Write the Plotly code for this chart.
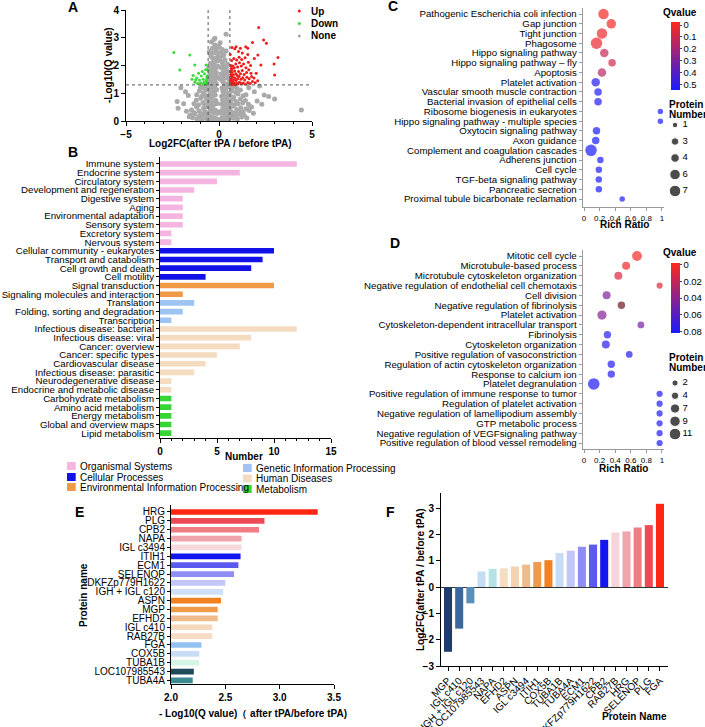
import plotly.graph_objects as go

# =============================================================================
# DATA
# =============================================================================

# ---- Panel A: volcano plot (Log2FC vs -Log10 Q) ----
# non-significant proteins
gray_x = [
    # lowest band
    -1.55, -1.42, -1.3, -1.18, -1.05, -0.95, -0.86, -0.77, -0.68, -0.6,
    -0.52, -0.45, -0.38, -0.31, -0.25, -0.18, -0.12, -0.06, 0.05, 0.11,
    0.17, 0.24, 0.3, 0.37, 0.44, 0.52, 0.6, 0.69, 0.78, 0.88,
    0.99, 1.1, 1.22, 1.36, 1.5,
    # band 2
    -1.48, -1.35, -1.2, -1.08, -0.96, -0.84, -0.73, -0.64, -0.55, -0.47,
    -0.4, -0.33, -0.26, -0.19, -0.13, -0.07, 0.08, 0.14, 0.2, 0.27,
    0.34, 0.41, 0.49, 0.57, 0.65, 0.74, 0.84, 0.95, 1.06, 1.18,
    1.3, 1.45, 1.62, 1.75,
    # band 3
    -1.35, -1.22, -1.1, -0.98, -0.87, -0.77, -0.68, -0.6, -0.52, -0.45,
    -0.38, -0.31, -0.24, -0.17, -0.1, 0.12, 0.19, 0.26, 0.33, 0.4,
    0.48, 0.56, 0.64, 0.73, 0.82, 0.92, 1.03, 1.15, 1.28, 1.42,
    1.58,
    # band 4
    -1.2, -1.06, -0.94, -0.83, -0.73, -0.64, -0.56, -0.48, -0.41, -0.34,
    -0.27, -0.2, -0.13, 0.14, 0.21, 0.28, 0.35, 0.43, 0.51, 0.6,
    0.69, 0.79, 0.9, 1.02, 1.15, 1.3,
    # band 5
    -1.0, -0.88, -0.77, -0.67, -0.58, -0.5, -0.43, -0.36, -0.29, -0.22,
    -0.15, 0.16, 0.23, 0.3, 0.37, 0.45, 0.53, 0.62, 0.72, 0.84,
    0.97,
    # band 6
    -0.56, -0.49, -0.42, -0.35, -0.28, -0.21, -0.14, -0.07, 0.05, 0.12,
    0.19, 0.26, 0.33, 0.4, 0.47, 0.54, -0.52, -0.38, -0.24, 0.15,
    0.3, 0.44,
    # band 7
    -0.55, -0.47, -0.4, -0.33, -0.26, -0.19, -0.12, -0.05, 0.04, 0.11,
    0.18, 0.25, 0.32, 0.39, 0.46, -0.43, -0.29, -0.15, 0.08, 0.22,
    0.36,
    # top band
    -0.52, -0.44, -0.36, -0.3, -0.22, -0.15, -0.08, 0.02, 0.1, 0.18,
    0.26, 0.38, -0.4, -0.26, -0.12, 0.06, -0.22, 0.38,
    # outliers
    -2.25, -2.2, -2.05, -1.75, -1.65, -1.9, 2.18, 2.3, 2.43, 2.67,
    2.99, 4.43, 1.9, 2.05, 1.7, 1.85, -1.6, -1.8, 1.6, 1.45,
]
gray_y = [
    0.22, 0.12, 0.25, 0.08, 0.18, 0.05, 0.21, 0.1, 0.16, 0.04,
    0.2, 0.09, 0.14, 0.06, 0.11, 0.03, 0.08, 0.02, 0.03, 0.07,
    0.12, 0.05, 0.15, 0.09, 0.19, 0.06, 0.13, 0.22, 0.1, 0.17,
    0.07, 0.24, 0.14, 0.2, 0.11,
    0.4, 0.31, 0.5, 0.36, 0.27, 0.45, 0.33, 0.52, 0.29, 0.42,
    0.35, 0.48, 0.3, 0.39, 0.27, 0.33, 0.28, 0.36, 0.44, 0.3,
    0.5, 0.38, 0.27, 0.46, 0.34, 0.53, 0.29, 0.41, 0.37, 0.48,
    0.32, 0.44, 0.38, 0.5,
    0.62, 0.75, 0.58, 0.82, 0.66, 0.57, 0.78, 0.64, 0.72, 0.59,
    0.83, 0.67, 0.6, 0.74, 0.63, 0.61, 0.77, 0.58, 0.69, 0.84,
    0.6, 0.73, 0.65, 0.8, 0.57, 0.7, 0.62, 0.79, 0.66, 0.74,
    0.6,
    0.95, 1.08, 0.88, 1.02, 0.92, 1.12, 0.87, 0.99, 1.1, 0.9,
    1.04, 0.94, 1.13, 0.89, 1.06, 0.96, 1.11, 0.88, 1.0, 0.93,
    1.09, 0.86, 1.03, 0.97, 1.12, 0.91,
    1.2, 1.22, 1.18, 1.26, 1.25, 1.37, 1.17, 1.3, 1.44, 1.22,
    1.35, 1.19, 1.4, 1.27, 1.16, 1.34, 1.23, 1.28, 1.19, 1.24,
    1.17,
    1.5, 1.68, 1.56, 1.8, 1.62, 1.49, 1.74, 1.58, 1.52, 1.7,
    1.6, 1.83, 1.55, 1.66, 1.78, 1.5, 1.82, 1.46, 1.66, 1.47,
    1.72, 1.59,
    1.9, 2.08, 1.95, 2.25, 2.02, 1.88, 2.15, 1.97, 2.3, 1.92,
    2.1, 1.99, 2.2, 1.94, 2.05, 2.32, 2.12, 2.27, 2.18, 2.34,
    1.87,
    2.5, 2.4, 2.62, 2.45, 2.74, 2.55, 2.42, 2.66, 2.48, 2.58,
    2.4, 2.52, 2.85, 2.95, 2.7, 2.82, 2.98, 3.13,
    0.7, 0.46, 1.2, 0.35, 0.92, 0.62, 1.26, 0.6, 0.94, 0.88,
    0.79, 0.4, 1.05, 0.72, 0.5, 0.28, 0.15, 1.05, 1.2, 0.95,
]
# up-regulated proteins
up_x = [
    0.62, 0.68, 0.75, 0.8, 0.88, 0.95, 1.02, 1.1, 1.2, 1.3, 1.42, 1.55, 1.68, 1.8, 1.95, 2.08,
    0.65, 0.72, 0.78, 0.85, 0.92, 1.0, 1.08, 1.18, 1.28, 1.38, 1.5, 1.62, 1.75, 1.88,
    0.63, 0.7, 0.77, 0.84, 0.9, 0.98, 1.05, 1.15, 1.25, 1.35, 1.48, 1.6, 1.72,
    0.66, 0.74, 0.82, 0.9, 1.0, 1.1, 1.2, 1.32, 1.45, 1.58, 1.7,
    0.68, 0.8, 0.95, 1.08, 1.22, 1.4, 1.55, 1.25, 1.05,
    0.7, 0.92, 1.15, 1.44, 1.55, 1.8, 2.09, 2.25, 2.4, 2.13, 2.96, 2.99, 3.17, 0.85, 0.6,
    0.64, 2.55, 2.0, 1.9,
    0.61, 0.66, 0.7, 0.73, 0.64, 0.69,
]
up_y = [
    1.35, 1.42, 1.33, 1.38, 1.31, 1.36, 1.33, 1.4, 1.34, 1.37, 1.32, 1.39, 1.35, 1.42, 1.38, 1.45,
    1.5, 1.58, 1.48, 1.55, 1.46, 1.52, 1.6, 1.5, 1.56, 1.48, 1.58, 1.52, 1.6, 1.55,
    1.68, 1.75, 1.66, 1.8, 1.7, 1.64, 1.78, 1.7, 1.82, 1.68, 1.75, 1.85, 1.72,
    1.9, 1.98, 1.92, 2.05, 1.95, 2.1, 1.98, 2.05, 1.92, 2.12, 2.0,
    2.18, 2.25, 2.2, 2.3, 2.22, 2.28, 2.4, 2.45, 2.5,
    2.65, 2.68, 2.62, 2.68, 2.62, 2.83, 2.38, 2.02, 2.92, 3.37, 2.05, 1.66, 2.29, 2.6, 2.4,
    2.0, 2.8, 1.72, 2.25,
    1.45, 1.62, 1.31, 1.4, 1.78, 1.86,
]
# down-regulated proteins
down_x = [
    -2.43, -1.57, -2.11, -1.3, -0.7, -0.61, -1.39, -1.2, -1.05, -0.95,
    -0.85, -0.78, -0.7, -0.65, -1.3, -1.15, -1.0, -0.88, -0.75, -0.62,
    -1.1, -0.9, -0.68, -1.25, -0.8, -1.45, -0.63, -0.72,
]
down_y = [
    2.47, 2.38, 1.84, 2.02, 2.02, 1.84, 1.64, 1.55, 1.48, 1.62,
    1.5, 1.7, 1.42, 1.58, 1.4, 1.35, 1.38, 1.33, 1.32, 1.36,
    1.72, 1.78, 1.48, 1.48, 1.4, 1.5, 1.62, 1.85,
]
FC_CUT = 0.585   # log2(1.5)
Q_CUT = 1.3      # -log10(0.05)

# ---- Panel B: KEGG pathway classification ----
kegg_class = [
    "Immune system", "Endocrine system", "Circulatory system",
    "Development and regeneration", "Digestive system", "Aging",
    "Environmental adaptation", "Sensory system", "Excretory system",
    "Nervous system",
    "Cellular community - eukaryotes", "Transport and catabolism",
    "Cell growth and death", "Cell motility",
    "Signal transduction", "Signaling molecules and interaction",
    "Translation", "Folding, sorting and degradation", "Transcription",
    "Infectious disease: bacterial", "Infectious disease: viral",
    "Cancer: overview", "Cancer: specific types", "Cardiovascular disease",
    "Infectious disease: parasitic", "Neurodegenerative disease",
    "Endocrine and metabolic disease",
    "Carbohydrate metabolism", "Amino acid metabolism", "Energy metabolism",
    "Global and overview maps", "Lipid metabolism",
]
kegg_count = [12, 7, 5, 3, 2, 2, 2, 2, 1, 1,
              10, 9, 8, 4,
              10, 2,
              3, 2, 1,
              12, 8, 7, 5, 4, 3, 1, 1,
              1, 1, 1, 1, 1]
kegg_group = (["Organismal Systems"] * 10 + ["Cellular Processes"] * 4
              + ["Environmental Information Processing"] * 2
              + ["Genetic Information Processing"] * 3
              + ["Human Diseases"] * 8 + ["Metabolism"] * 5)
group_colors = {
    "Organismal Systems": "#f4b6e1",
    "Cellular Processes": "#1212e6",
    "Environmental Information Processing": "#f09a48",
    "Genetic Information Processing": "#9dc4f3",
    "Human Diseases": "#f5dcc0",
    "Metabolism": "#36d636",
}

# ---- Panel C: KEGG enrichment bubble chart ----
c_terms = [
    "Pathogenic Escherichia coli infection", "Gap junction", "Tight junction",
    "Phagosome", "Hippo signaling pathway", "Hippo signaling pathway \u2013 fly",
    "Apoptosis", "Platelet activation", "Vascular smooth muscle contraction",
    "Bacterial invasion of epithelial cells", "Ribosome biogenesis in eukaryotes",
    "Hippo signaling pathway - multiple species", "Oxytocin signaling pathway",
    "Axon guidance", "Complement and coagulation cascades", "Adherens junction",
    "Cell cycle", "TGF-beta signaling pathway", "Pancreatic secretion",
    "Proximal tubule bicarbonate reclamation",
]
c_ratio = [0.25, 0.35, 0.23, 0.16, 0.26, 0.36, 0.23, 0.15, 0.18, 0.18,
           0.98, 0.98, 0.16, 0.15, 0.09, 0.21, 0.19, 0.19, 0.19, 0.49]
c_qvalue = [0.0, 0.0, 0.02, 0.03, 0.12, 0.09, 0.15, 0.52, 0.53, 0.53,
            0.54, 0.54, 0.54, 0.54, 0.54, 0.54, 0.54, 0.54, 0.54, 0.54]
c_count = [6, 5, 6, 7, 4, 3, 4, 4, 3, 3, 1, 1, 3, 3, 7, 2, 2, 2, 2, 1]
c_size_levels = [1, 3, 4, 6, 7]
c_q_ticks = [0, 0.1, 0.2, 0.3, 0.4, 0.5]

# ---- Panel D: GO enrichment bubble chart ----
d_terms = [
    "Mitotic cell cycle", "Microtubule-based process",
    "Microtubule cytoskeleton organization",
    "Negative regulation of endothelial cell chemotaxis", "Cell division",
    "Negative regulation of fibrinolysis", "Platelet activation",
    "Cytoskeleton-dependent intracellular transport", "Fibrinolysis",
    "Cytoskeleton organization", "Positive regulation of vasoconstriction",
    "Regulation of actin cytoskeleton organization", "Response to calcium ion",
    "Platelet degranulation", "Positive regulation of immune response to tumor",
    "Regulation of platelet activation",
    "Negative regulation of lamellipodium assembly", "GTP metabolic process",
    "Negative regulation of VEGFsignaling pathway",
    "Positive regulation of blood vessel remodeling",
]
d_ratio = [0.68, 0.54, 0.44, 0.97, 0.29, 0.48, 0.23, 0.73, 0.30, 0.28,
           0.58, 0.35, 0.35, 0.125, 0.97, 0.97, 0.97, 0.97, 0.97, 0.97]
d_qvalue = [0.002, 0.005, 0.012, 0.01, 0.045, 0.03, 0.043, 0.048, 0.076, 0.076,
            0.078, 0.078, 0.078, 0.08, 0.08, 0.08, 0.08, 0.08, 0.08, 0.08]
d_count = [8, 5, 5, 2, 5, 4, 7, 3, 4, 5, 3, 4, 4, 11, 2, 2, 2, 2, 2, 2]
d_size_levels = [2, 4, 7, 9, 11]
d_q_ticks = [0, 0.02, 0.04, 0.06, 0.08]
d_dark_term = "Negative regulation of fibrinolysis"   # drawn in a dark maroon

# ---- Panel E: top proteins by -Log10(Q value) ----
e_proteins = ["HRG", "PLG", "CPB2", "NAPA", "IGL c3494", "ITIH1", "ECM1",
              "SELENOP", "DKFZp779H1622", "IGH + IGL c120", "ASPN", "MGP",
              "EFHD2", "IGL c410", "RAB27B", "FGA", "COX5B", "TUBA1B",
              "LOC107985543", "TUBA4A"]
e_logq = [3.35, 2.86, 2.81, 2.65, 2.65, 2.64, 2.62, 2.58, 2.50, 2.48,
          2.46, 2.43, 2.43, 2.38, 2.38, 2.28, 2.26, 2.26, 2.21, 2.20]
e_colors = ["#ff2614", "#ee4a56", "#f07c84", "#f2a4ac", "#f6d9dc",
            "#1515f0", "#5a5af0", "#8d8df4", "#c2c6f8", "#cfe0f6",
            "#f08224", "#ee9c4c", "#efbb88", "#f5d8bc", "#f5dcc2",
            "#93c1f2", "#c9dcf6", "#d2f5e6", "#1f4a5a", "#3a8a92"]

# ---- Panel F: Log2FC of the same proteins ----
f_proteins = ["MGP", "IGL c410", "IGH + IGL c120", "LOC107985543", "NAPA",
              "EFHD2", "ASPN", "IGL c3494", "ITIH1", "COX5B", "TUBA1B",
              "TUBA4A", "ECM1", "DKFZp779H1622", "CPB2", "RAB27B", "HRG",
              "SELENOP", "PLG", "FGA"]
f_log2fc = [-2.46, -1.58, -0.62, 0.59, 0.69, 0.71, 0.78, 0.85, 0.95, 1.02,
            1.29, 1.38, 1.53, 1.61, 1.79, 2.07, 2.11, 2.26, 2.35, 3.16]
f_colors = ["#1f3c6e", "#3b679c", "#5b8fba", "#c5dcf5", "#b5e3e3",
            "#f5dcc2", "#f3d2b0", "#efbb88", "#ee9c4c", "#f08224",
            "#c9dcf6", "#c2c6f8", "#8d8df4", "#5a5af0", "#1515f0",
            "#f6d5da", "#f2a4ac", "#f07c84", "#ee4a56", "#ff2614"]

# =============================================================================
# HELPERS
# =============================================================================
W, H = 705, 727
FONT = "Liberation Sans, Arial, sans-serif"
# colour runs blue (high Q) -> red (Q = 0); values are negated so 0 sits on top
QSCALE = [[0, "#1a1aff"], [1, "#ff2a1a"]]


def fx(x):
    # pixel x -> paper
    return x / W


def fy(y):
    # pixel y -> paper
    return 1 - y / H


def c_diam(n):
    return 4.5 + n


def d_diam(n):
    return 5 + 0.6 * n


def qbar(top, length, ticks):
    return dict(x=fx(671), xanchor="left", y=fy(top), yanchor="top",
                len=length, lenmode="pixels", thickness=9, xpad=0, ypad=0,
                outlinewidth=0, tickvals=[-t for t in ticks], ticktext=[str(t) for t in ticks],
                ticks="outside", ticklen=2, tickfont=dict(size=9.5, family=FONT))


fig = go.Figure()

# ---- A ----
fig.add_trace(go.Scatter(x=gray_x, y=gray_y, mode="markers", xaxis="x", yaxis="y",
                         marker=dict(color="#a9a9a9", size=5), showlegend=False))
fig.add_trace(go.Scatter(x=up_x, y=up_y, mode="markers", xaxis="x", yaxis="y",
                         marker=dict(color="#ee1c1c", size=3), showlegend=False))
fig.add_trace(go.Scatter(x=down_x, y=down_y, mode="markers", xaxis="x", yaxis="y",
                         marker=dict(color="#3ada3a", size=3), showlegend=False))

# ---- B ----
fig.add_trace(go.Bar(x=kegg_count, y=kegg_class, orientation="h", xaxis="x2", yaxis="y2",
                     marker=dict(color=[group_colors[g] for g in kegg_group], line_width=0),
                     width=0.65, showlegend=False))

# ---- C ----
fig.add_trace(go.Scatter(
    x=c_ratio, y=c_terms, mode="markers", xaxis="x3", yaxis="y3", showlegend=False,
    marker=dict(size=[c_diam(n) for n in c_count], color=[-q for q in c_qvalue],
                colorscale=QSCALE, cmin=-0.542, cmax=0.025, line_width=0,
                colorbar=qbar(22, 68, c_q_ticks))))
fig.add_trace(go.Scatter(x=[0.22] * len(c_size_levels), y=[str(v) for v in c_size_levels],
                         mode="markers", xaxis="x7", yaxis="y7", showlegend=False,
                         marker=dict(size=[c_diam(n) for n in c_size_levels], color="black")))
fig.add_trace(go.Scatter(x=[0.45] * len(c_size_levels), y=[str(v) for v in c_size_levels],
                         text=[str(v) for v in c_size_levels], mode="text",
                         textposition="middle right", xaxis="x7", yaxis="y7",
                         textfont=dict(size=9.5), showlegend=False))

# ---- D ----
d_main = [i for i, t in enumerate(d_terms) if t != d_dark_term]
d_dark = [i for i, t in enumerate(d_terms) if t == d_dark_term]
fig.add_trace(go.Scatter(
    x=[d_ratio[i] for i in d_main], y=[d_terms[i] for i in d_main], mode="markers",
    xaxis="x4", yaxis="y4", showlegend=False,
    marker=dict(size=[d_diam(d_count[i]) for i in d_main],
                color=[-d_qvalue[i] for i in d_main], colorscale=QSCALE,
                cmin=-0.082, cmax=0.002, line_width=0,
                colorbar=qbar(263, 70, d_q_ticks))))
fig.add_trace(go.Scatter(
    x=[d_ratio[i] for i in d_dark], y=[d_terms[i] for i in d_dark], mode="markers",
    xaxis="x4", yaxis="y4", showlegend=False,
    marker=dict(size=[d_diam(d_count[i]) for i in d_dark], color="#6e1422", line_width=0)))
fig.add_trace(go.Scatter(x=[0.22] * len(d_size_levels), y=[str(v) for v in d_size_levels],
                         mode="markers", xaxis="x8", yaxis="y8", showlegend=False,
                         marker=dict(size=[d_diam(n) for n in d_size_levels], color="black")))
fig.add_trace(go.Scatter(x=[0.45] * len(d_size_levels), y=[str(v) for v in d_size_levels],
                         text=[str(v) for v in d_size_levels], mode="text",
                         textposition="middle right", xaxis="x8", yaxis="y8",
                         textfont=dict(size=9.5), showlegend=False))

# ---- E ----
fig.add_trace(go.Bar(x=e_logq, y=e_proteins, orientation="h", xaxis="x5", yaxis="y5",
                     marker=dict(color=e_colors, line_width=0), width=0.64, showlegend=False))

# ---- F ----
fig.add_trace(go.Bar(x=f_proteins, y=f_log2fc, xaxis="x6", yaxis="y6",
                     marker=dict(color=f_colors, line_width=0), width=0.72, showlegend=False))

# =============================================================================
# AXES
# =============================================================================
base = dict(showline=True, linecolor="black", linewidth=1, showgrid=False, zeroline=False,
            ticks="outside", ticklen=4, tickcolor="black", tickwidth=1)
bold10 = dict(size=10, weight="bold", family=FONT)
reg10 = dict(size=10, family=FONT)
soft = dict(base, linecolor="#9a9a9a", tickcolor="#9a9a9a", ticklen=3)
rich_ticks = dict(tickvals=[0, 0.2, 0.4, 0.6, 0.8, 1],
                  ticktext=["0", "0.2", "0.4", "0.6", "0.8", "1"],
                  tickfont=dict(size=8, family=FONT), range=[-0.017, 1.02],
                  domain=[fx(582.7), fx(663.5)])


def cat_axis(cats):
    return dict(type="category", categoryorder="array", categoryarray=cats,
                tickmode="array", tickvals=cats, ticktext=cats)


fig.update_layout(
    xaxis=dict(base, domain=[fx(126), fx(312)], range=[-5, 5], tickvals=[-5, 0, 5],
               minor=dict(dtick=1, ticks="outside", ticklen=2, tickcolor="black"),
               tickfont=bold10, anchor="y"),
    yaxis=dict(base, domain=[fy(121), fy(10)], range=[0, 4], dtick=1,
               tickfont=bold10, anchor="x"),
    xaxis2=dict(base, domain=[fx(160), fx(331)], range=[0, 15], tickvals=[0, 5, 10, 15],
                minor=dict(dtick=1, ticks="outside", ticklen=2, tickcolor="black"),
                tickfont=bold10, anchor="y2"),
    yaxis2=dict(base, domain=[fy(438.4), fy(157)], range=[31.6, -0.8],
                ticklen=3, tickfont=dict(size=9.7, family=FONT), anchor="x2",
                **cat_axis(kegg_class)),
    xaxis3=dict(soft, anchor="y3", **rich_ticks),
    yaxis3=dict(soft, domain=[fy(207), fy(8)], range=[19.82, -0.62],
                tickfont=dict(size=9.7, family=FONT), anchor="x3", **cat_axis(c_terms)),
    xaxis4=dict(soft, anchor="y4", **rich_ticks),
    yaxis4=dict(soft, domain=[fy(449), fy(250)], range=[19.61, -0.61],
                tickfont=dict(size=9.7, family=FONT), anchor="x4", **cat_axis(d_terms)),
    xaxis5=dict(base, domain=[fx(171), fx(334)], range=[2, 3.5], tickvals=[2, 2.5, 3, 3.5],
                ticktext=["2.0", "2.5", "3.0", "3.5"], tickfont=bold10, anchor="y5"),
    yaxis5=dict(base, domain=[fy(684), fy(504.9)], range=[19.4, -0.8], ticklen=3,
                tickfont=reg10, anchor="x5", **cat_axis(e_proteins)),
    xaxis6=dict(base, domain=[fx(441), fx(668)], range=[-0.63, 19.72], tickangle=-45,
                tickfont=dict(size=10, family=FONT), anchor="y6", **cat_axis(f_proteins)),
    yaxis6=dict(base, domain=[fy(666), fy(493)], range=[-3, 3.57], tickvals=[-3, -2, -1, 0, 1, 2, 3],
                zeroline=True, zerolinecolor="#333333", zerolinewidth=1,
                tickfont=bold10, anchor="x6"),
    xaxis7=dict(domain=[fx(668), fx(700)], range=[0, 1], visible=False, anchor="y7"),
    yaxis7=dict(domain=[fy(199.25), fy(116.75)], type="category", range=[4.5, -0.5],
                visible=False, anchor="x7"),
    xaxis8=dict(domain=[fx(668), fx(700)], range=[0, 1], visible=False, anchor="y8"),
    yaxis8=dict(domain=[fy(440.4), fy(376.6)], type="category", range=[4.5, -0.5],
                visible=False, anchor="x8"),
)

# =============================================================================
# SHAPES (threshold lines, legend swatches)
# =============================================================================
shapes = []
for xv in (-FC_CUT, FC_CUT):
    shapes.append(dict(type="line", xref="x", yref="y", x0=xv, x1=xv, y0=0, y1=4,
                       line=dict(color="#555555", width=1, dash="dot")))
shapes.append(dict(type="line", xref="x", yref="y", x0=-5, x1=5, y0=Q_CUT, y1=Q_CUT,
                   line=dict(color="#555555", width=1, dash="dot")))

# volcano legend
annotations = []
for label, col, yy in (("Up", "#ee1c1c", 11), ("Down", "#3ada3a", 23.5), ("None", "#a8a8a8", 36)):
    shapes.append(dict(type="circle", xref="paper", yref="paper", x0=fx(297.8), x1=fx(300.8),
                       y0=fy(yy + 1.5), y1=fy(yy - 1.5), fillcolor=col, line_width=0))
    annotations.append(dict(text=label, x=fx(309), y=fy(yy), xref="paper", yref="paper",
                            xanchor="left", yanchor="middle", showarrow=False,
                            font=dict(size=10, weight="bold", family=FONT)))

# category legend for B
legend_pos = [("Organismal Systems", 67, 466), ("Cellular Processes", 67, 477),
              ("Environmental Information Processing", 67, 487),
              ("Genetic Information Processing", 243, 468), ("Human Diseases", 243, 478.5),
              ("Metabolism", 243, 489)]
for name, lx, ly in legend_pos:
    shapes.append(dict(type="rect", xref="paper", yref="paper", x0=fx(lx), x1=fx(lx + 8.7),
                       y0=fy(ly + 4), y1=fy(ly - 4), fillcolor=group_colors[name], line_width=0))
    annotations.append(dict(text=name, x=fx(lx + 11), y=fy(ly), xref="paper", yref="paper",
                            xanchor="left", yanchor="middle", showarrow=False,
                            font=dict(size=10, family=FONT)))

# =============================================================================
# TEXT (panel letters and axis titles)
# =============================================================================
def note(text, x, y, size=10, bold=True, angle=0, xanchor="center"):
    annotations.append(dict(text=text, x=fx(x), y=fy(y), xref="paper", yref="paper",
                            xanchor=xanchor, yanchor="middle", showarrow=False, textangle=angle,
                            font=dict(size=size, weight="bold" if bold else "normal", family=FONT)))


for letter, lx, ly in (("A", 73, 7), ("B", 73, 152), ("C", 393, 6), ("D", 395, 243),
                       ("E", 79, 512), ("F", 390, 512)):
    note(letter, lx, ly, size=14)

note("-Log10(Q value)", 108, 65, angle=-90)
note("Log2FC(after tPA / before tPA)", 220, 144)
note("Number", 244, 456)
note("Rich Ratio", 624, 224)
note("Rich Ratio", 623.5, 468)
note("Qvalue", 680, 12.5)
note("Qvalue", 680, 252)
note("Protein", 667, 104, xanchor="left")
note("Number", 667, 114, xanchor="left")
note("Protein", 667, 357, xanchor="left")
note("Number", 667, 367, xanchor="left")
note("- Log10(Q value)\uff08 after tPA/before tPA)", 252.5, 713)
note("Protein name", 83, 595, angle=-90)
note("Log2FC(after tPA / before tPA)", 420, 580, angle=-90)
note("Protein Name", 634.5, 716)

fig.update_layout(
    width=W, height=H, margin=dict(l=0, r=0, t=0, b=0, autoexpand=False),
    paper_bgcolor="white", plot_bgcolor="white",
    font=dict(family=FONT, color="black", size=10),
    shapes=shapes, annotations=annotations,
    showlegend=False,
)

# the page body has a default 8px margin; drop it so the figure fills the window
fig.write_html("out.html", config={"displayModeBar": False},
               post_script="document.body.style.margin='0';")
